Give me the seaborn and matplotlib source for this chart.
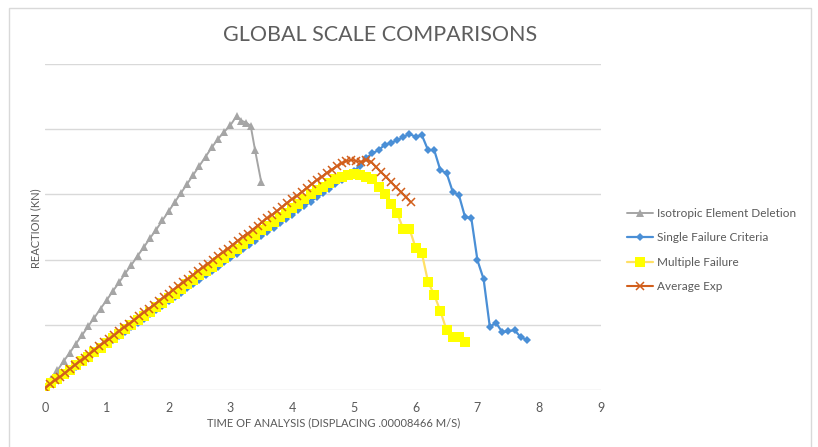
import numpy as np
import pandas as pd
import matplotlib
matplotlib.use("Agg")
import matplotlib.pyplot as plt
from matplotlib.patches import Rectangle
import seaborn as sns

# ---- data -------------------------------------------------------------
iso_x = list(np.round(np.arange(0.0, 3.15, 0.1), 2)) + [3.18, 3.26, 3.33, 3.4, 3.5]
iso_y = [0.3, 1.7, 3.0, 4.4, 5.7, 7.1, 8.4, 9.8, 11.1, 12.5,
         13.8, 15.2, 16.5, 17.9, 19.2, 20.6, 21.9, 23.3, 24.6, 26.0,
         27.4, 28.8, 30.2, 31.6, 33.0, 34.4, 35.8, 37.2, 38.5, 39.6,
         40.6, 42.0, 41.3, 41.0, 40.5, 36.8, 31.9]

single_x = list(np.round(np.arange(0.0, 7.85, 0.1), 2))
single_y = [0.3, 1.0, 1.6, 2.3, 3.0, 3.6, 4.3, 5.0, 5.6, 6.3,
            7.0, 7.6, 8.3, 8.9, 9.6, 10.3, 10.9, 11.6, 12.3, 12.9,
            13.6, 14.3, 14.9, 15.6, 16.3, 16.9, 17.6, 18.3, 18.9, 19.6,
            20.3, 20.9, 21.6, 22.2, 22.9, 23.6, 24.2, 24.9, 25.6, 26.2,
            26.9, 27.6, 28.2, 28.9, 29.6, 30.2, 30.9, 31.6, 32.2, 32.9,
            33.6, 34.4, 35.6, 36.3, 36.8, 37.6, 37.9, 38.3, 38.8, 39.3,
            38.8, 39.1, 36.8, 36.8, 33.7, 33.3, 30.4, 29.9, 26.5, 26.4,
            19.9, 17.0, 9.7, 10.3, 8.9, 9.0, 9.2, 8.1, 7.7]

multi_x = list(np.round(np.arange(0.0, 6.85, 0.1), 2))
multi_y = [0.3, 1.0, 1.7, 2.4, 3.1, 3.8, 4.4, 5.1, 5.8, 6.5,
           7.2, 7.9, 8.6, 9.3, 10.0, 10.7, 11.3, 12.0, 12.7, 13.4,
           14.1, 14.8, 15.5, 16.2, 16.9, 17.6, 18.2, 18.9, 19.6, 20.3,
           21.0, 21.7, 22.4, 23.1, 23.8, 24.5, 25.1, 25.8, 26.5, 27.2,
           27.9, 28.6, 29.3, 30.0, 30.6, 31.2, 31.8, 32.3, 32.7, 33.0,
           33.1, 33.0, 32.7, 32.4, 31.1, 30.1, 28.5, 27.1, 24.7, 24.7,
           21.8, 21.0, 16.6, 14.6, 12.1, 9.2, 8.1, 8.1, 7.4]

avg_x = list(np.round(np.arange(0.0, 5.95, 0.08), 2))
avg_y = [0.3, 0.9, 1.5, 2.0, 2.6, 3.2, 3.8, 4.4, 4.9, 5.5,
         6.1, 6.7, 7.3, 7.8, 8.4, 9.0, 9.6, 10.1, 10.7, 11.3,
         11.9, 12.5, 13.0, 13.6, 14.2, 14.8, 15.4, 15.9, 16.5, 17.1,
         17.7, 18.3, 18.8, 19.4, 20.0, 20.6, 21.1, 21.7, 22.3, 22.9,
         23.5, 24.0, 24.6, 25.2, 25.8, 26.4, 26.9, 27.5, 28.1, 28.7,
         29.3, 29.8, 30.4, 31.0, 31.6, 32.2, 32.7, 33.3, 33.8, 34.3,
         34.8, 35.1, 35.3, 35.1, 35.0, 35.3, 35.0, 34.2, 33.4, 32.7,
         31.9, 31.1, 30.4, 29.6, 28.8]

series_names = ["Isotropic Element Deletion", "Single Failure Criteria",
                "Multiple Failure", "Average Exp"]
x_ticks = list(range(0, 10))

# ---- style ------------------------------------------------------------
sns.set_theme(style="white")
plt.rcParams["font.family"] = ["Lato", "DejaVu Sans"]
text_color = "#595959"
grid_color = "#D9D9D9"

fig = plt.figure(figsize=(8.18, 4.47), dpi=100)
fig.patch.set_facecolor("white")
fig.patches.append(Rectangle((9 / 818, -0.05), 802 / 818, 1.05 - 8 / 447,
                             transform=fig.transFigure, fill=False,
                             edgecolor=grid_color, linewidth=1.0))

ax = fig.add_axes([45 / 818, 57 / 447, 556 / 818, 326 / 447])

styles = [
    dict(color="#A5A5A5", marker="^", markersize=6, markeredgewidth=0,
         markerfacecolor="#A5A5A5", linewidth=1.4),
    dict(color="#4A8FD6", marker="D", markersize=4.5, markeredgewidth=0,
         markerfacecolor="#4A8FD6", linewidth=1.6),
    dict(color="#FFE066", marker="s", markersize=6.5, markeredgewidth=0,
         markerfacecolor="#FFFF00", linewidth=1.6),
    dict(color="#D25F1C", marker="x", markersize=6, markeredgewidth=1.1,
         markeredgecolor="#D25F1C", linewidth=1.5),
]
data = [(iso_x, iso_y), (single_x, single_y), (multi_x, multi_y), (avg_x, avg_y)]

for name, (xs, ys), st in zip(series_names, data, styles):
    df = pd.DataFrame({"t": xs, "r": ys})
    sns.lineplot(data=df, x="t", y="r", ax=ax, label=name, sort=False,
                 estimator=None, **st)

ax.set_xlim(0, 9)
ax.set_ylim(0, 50)
ax.set_xticks(x_ticks)
ax.set_xticklabels([str(t) for t in x_ticks])
ax.set_yticks([0, 10, 20, 30, 40, 50])
ax.set_yticklabels([])
ax.tick_params(axis="x", length=0, pad=9, labelsize=9, labelcolor=text_color)
ax.tick_params(axis="y", length=0)
ax.yaxis.grid(True, color=grid_color, linewidth=1.0)
ax.xaxis.grid(False)
ax.set_axisbelow(True)
for s in ax.spines.values():
    s.set_visible(False)

ax.set_xlabel("TIME OF ANALYSIS (DISPLACING .00008466 M/S)", fontsize=8,
              color=text_color, labelpad=0)
ax.xaxis.set_label_coords((334 - 45) / 556, -27 / 326)
ax.set_ylabel("REACTION (KN)", fontsize=8, color=text_color)
ax.yaxis.set_label_coords(-4 / 556, (390 - 228) / 326)

fig.text(380 / 818, 1 - 35 / 447, "GLOBAL SCALE COMPARISONS", ha="center",
         va="center", fontsize=15.5, color="#5E5E5E", fontweight="normal")

ax.get_legend().remove()
handles, labels = ax.get_legend_handles_labels()
leg = fig.legend(handles, labels, loc="center left",
                 bbox_to_anchor=(627 / 818, 1 - 250 / 447), frameon=False,
                 fontsize=8.5, handlelength=2.2, handletextpad=0.35,
                 labelspacing=1.15, borderaxespad=0, borderpad=0)
for t in leg.get_texts():
    t.set_color(text_color)

fig.savefig("out.png", dpi=100)
